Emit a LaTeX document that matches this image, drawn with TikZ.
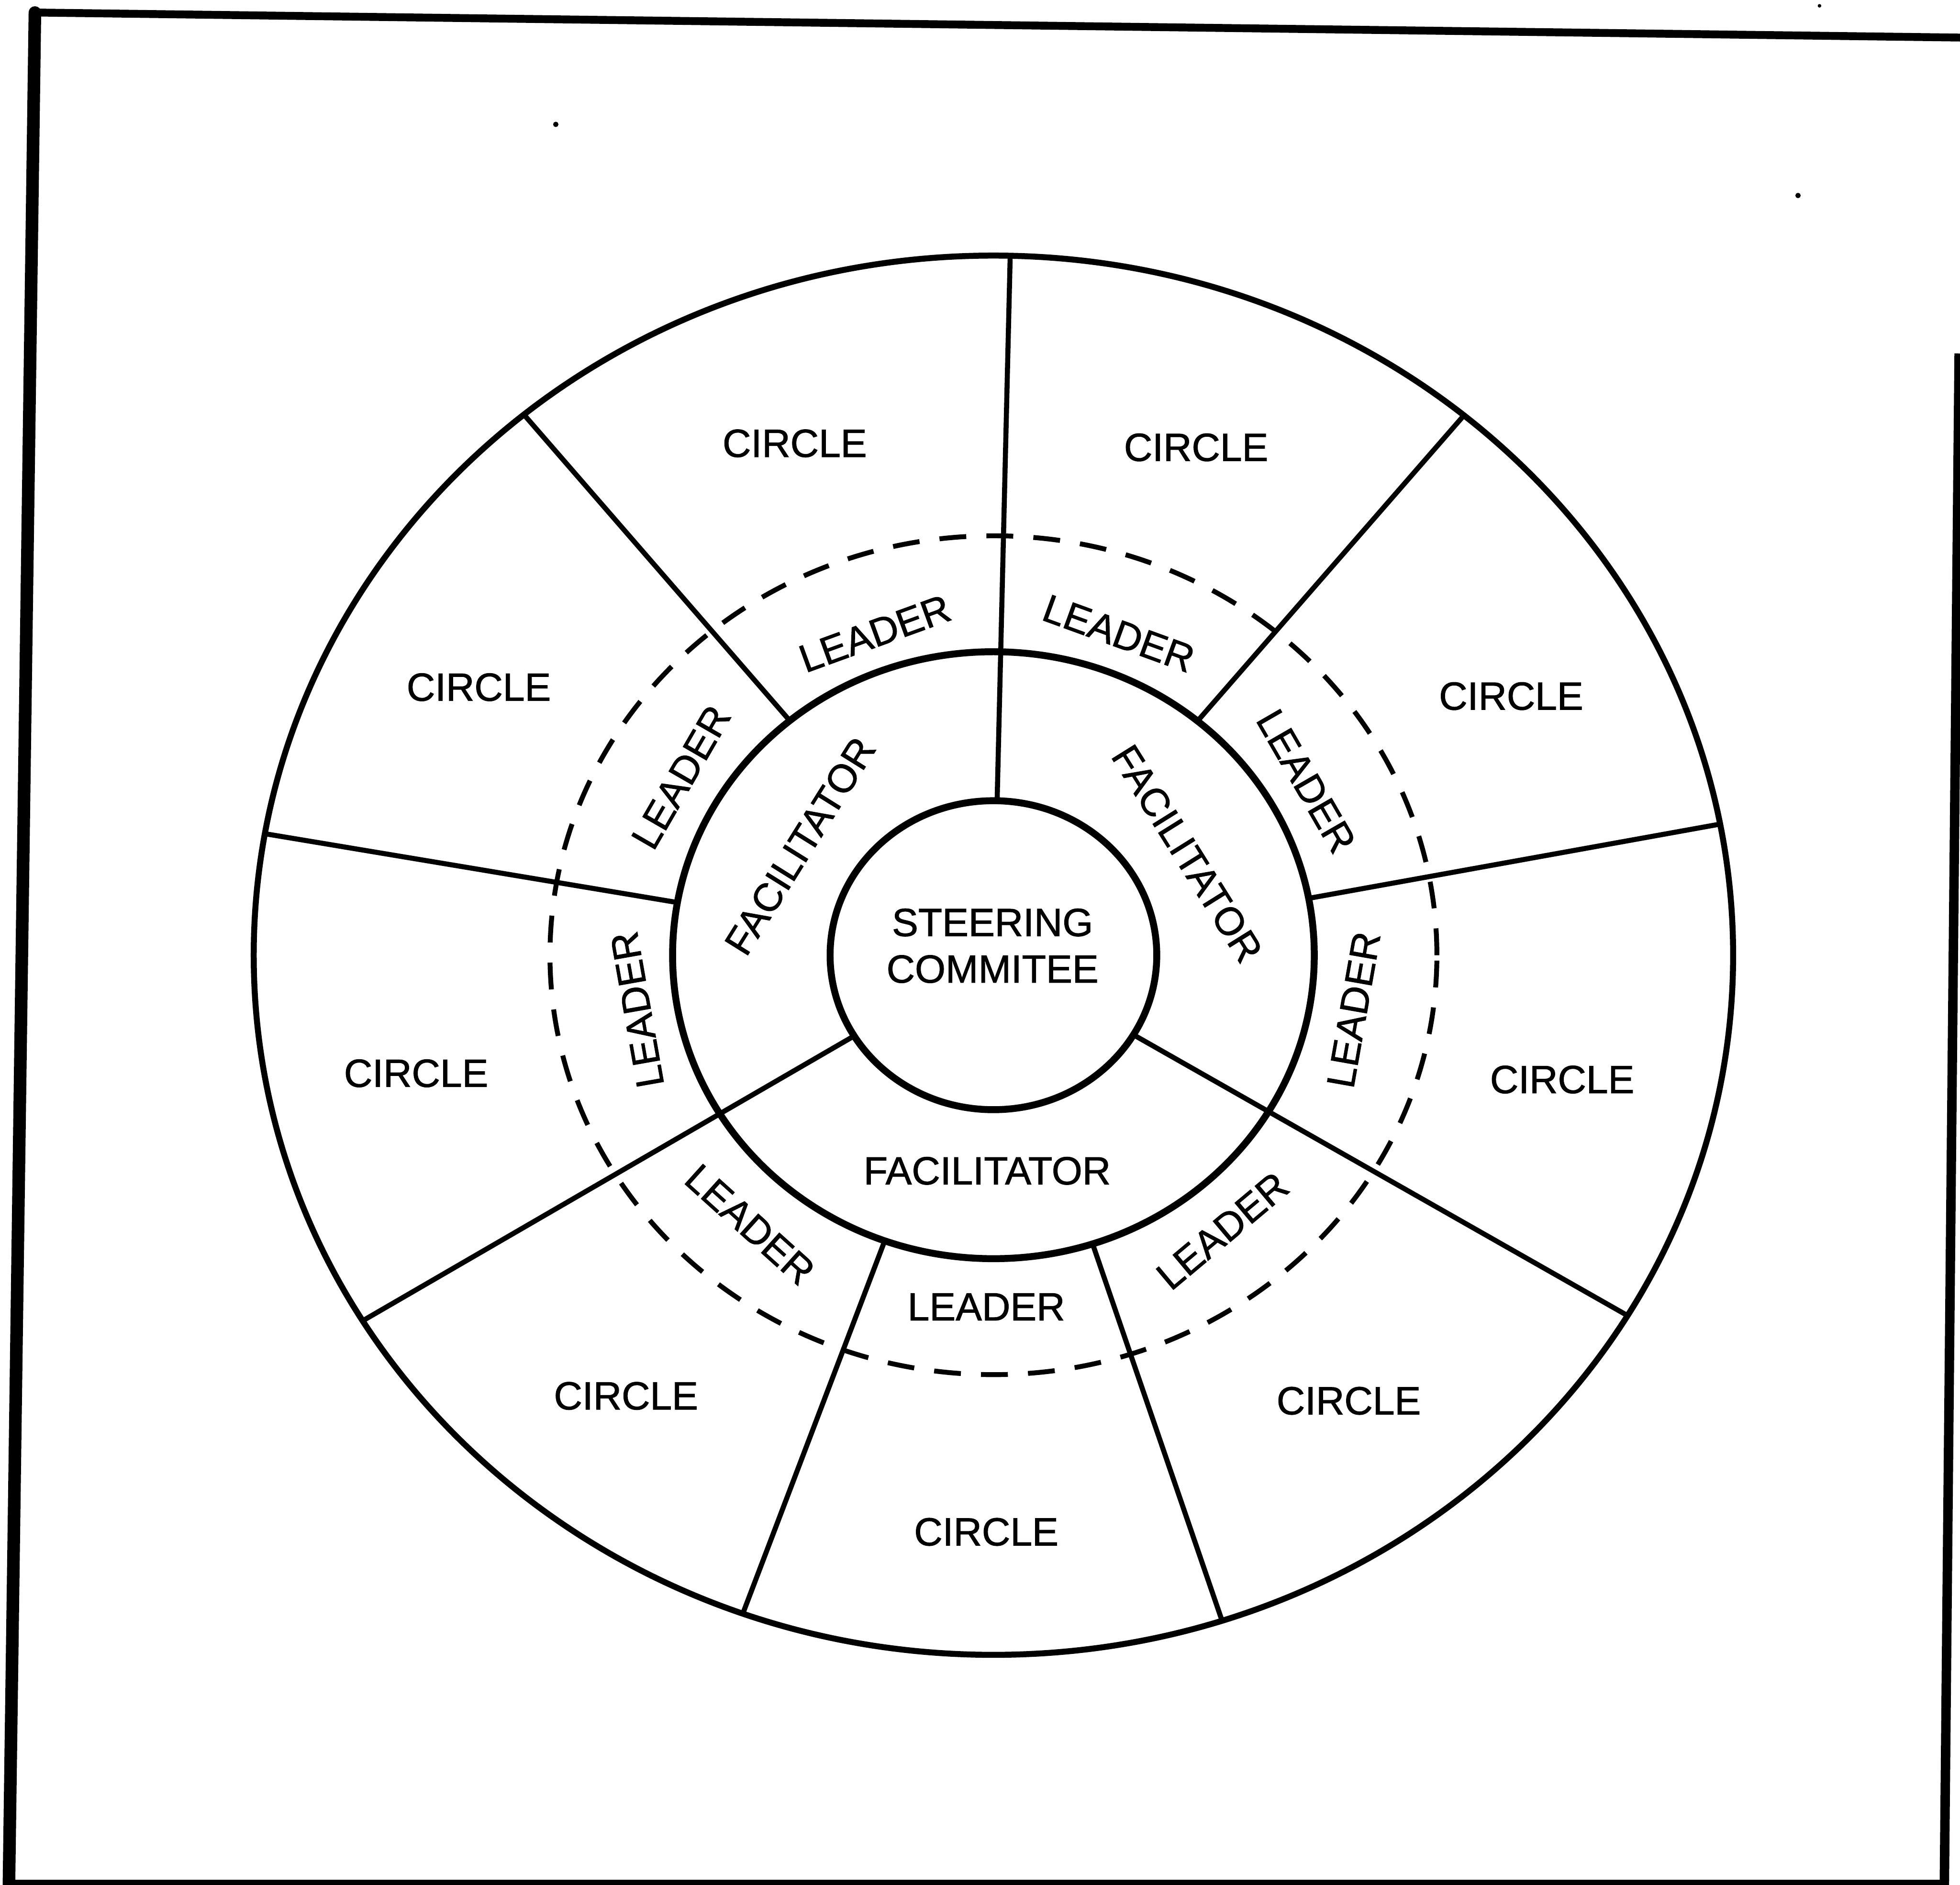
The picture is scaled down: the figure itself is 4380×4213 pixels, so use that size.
\documentclass[tikz,border=0pt]{standalone}
\usepackage{fontspec}
\setmainfont{Liberation Sans}
\newfontfamily\lblfont[FakeBold=1.2]{Liberation Sans}
\begin{document}
\begin{tikzpicture}[x=0.01cm,y=0.01cm,
  lbl/.style={font=\lblfont\fontsize{25}{30}\selectfont, inner sep=0pt},
  ring/.style={line width=4.4pt},
  outerring/.style={line width=3.8pt},
  spoke/.style={line width=3.2pt},
  dashring/.style={line width=3.1pt, dash pattern=on 0.6cm off 0.45cm},
  speck/.style={fill=black}]
\useasboundingbox (0,0) rectangle (4380,-4213);
% frame
\coordinate (ftl) at (78,-28);
\coordinate (ftr) at (4380,-84);
\coordinate (fbl) at (20,-4213);
\coordinate (frt) at (4378,-790);
\coordinate (frb) at (4345,-4213);
\coordinate (bbl) at (20,-4208);
\coordinate (bbr) at (4345,-4208);
\draw[line width=5pt] (ftl) -- (ftr);
\draw[line width=8pt, line cap=round] (ftl) -- (fbl);
\draw[line width=6pt] (frt) -- (frb);
\draw[line width=4pt] (bbl) -- (bbr);
% specks
\fill[speck] (1242,-278) circle[radius=6];
\fill[speck] (4018,-437) circle[radius=6];
\fill[speck] (4066,-13) circle[radius=4];
% rings and spokes
\begin{scope}[shift={(2220,-2135)}, yscale=0.946]
  \draw[outerring] (0,0) circle[radius=1653];
  \draw[dashring] (0,0) circle[radius=991];
  \draw[ring] (0,0) circle[radius=717];
  \draw[ring] (0,0) circle[radius=365];
  \foreach \a/\r in {88.7/365, 50.5/717, 10.8/717, -31/365, -72/717,
                     -109.8/717, -148.5/365, 170/717, 129.4/717}
    \draw[spoke] (\a:\r) -- (\a:1653);
\end{scope}
% CIRCLE labels
\node[lbl] (c1) at (1776,-991)  {CIRCLE};
\node[lbl] (c2) at (2673,-1000) {CIRCLE};
\node[lbl] (c3) at (3377,-1556) {CIRCLE};
\node[lbl] (c4) at (3491,-2413) {CIRCLE};
\node[lbl] (c5) at (3014,-3131) {CIRCLE};
\node[lbl] (c6) at (2204,-3424) {CIRCLE};
\node[lbl] (c7) at (1399,-3120) {CIRCLE};
\node[lbl] (c8) at (930,-2399)  {CIRCLE};
\node[lbl] (c9) at (1070,-1536) {CIRCLE};
% LEADER labels
\node[lbl, rotate=20]  (l1) at (1955,-1416) {LEADER};
\node[lbl, rotate=-20] (l2) at (2500,-1416) {LEADER};
\node[lbl, rotate=-60] (l3) at (2919,-1746) {LEADER};
\node[lbl, rotate=80]  (l4) at (3025,-2257) {LEADER};
\node[lbl, rotate=40]  (l5) at (2732,-2751) {LEADER};
\node[lbl]             (l6) at (2204,-2921) {LEADER};
\node[lbl, rotate=-42] (l7) at (1676,-2737) {LEADER};
\node[lbl, rotate=100] (l8) at (1424,-2257) {LEADER};
\node[lbl, rotate=60]  (l9) at (1522,-1737) {LEADER};
% FACILITATOR labels
\node[lbl, rotate=58]  (f1) at (1788,-1891) {FACILITATOR};
\node[lbl, rotate=-58] (f2) at (2653,-1908) {FACILITATOR};
\node[lbl]             (f3) at (2206,-2617) {FACILITATOR};
% centre
\node[lbl, align=center, font=\lblfont\fontsize{25}{29.6}\selectfont] (sc) at (2218,-2114) {STEERING\\COMMITEE};
\end{tikzpicture}
\end{document}
